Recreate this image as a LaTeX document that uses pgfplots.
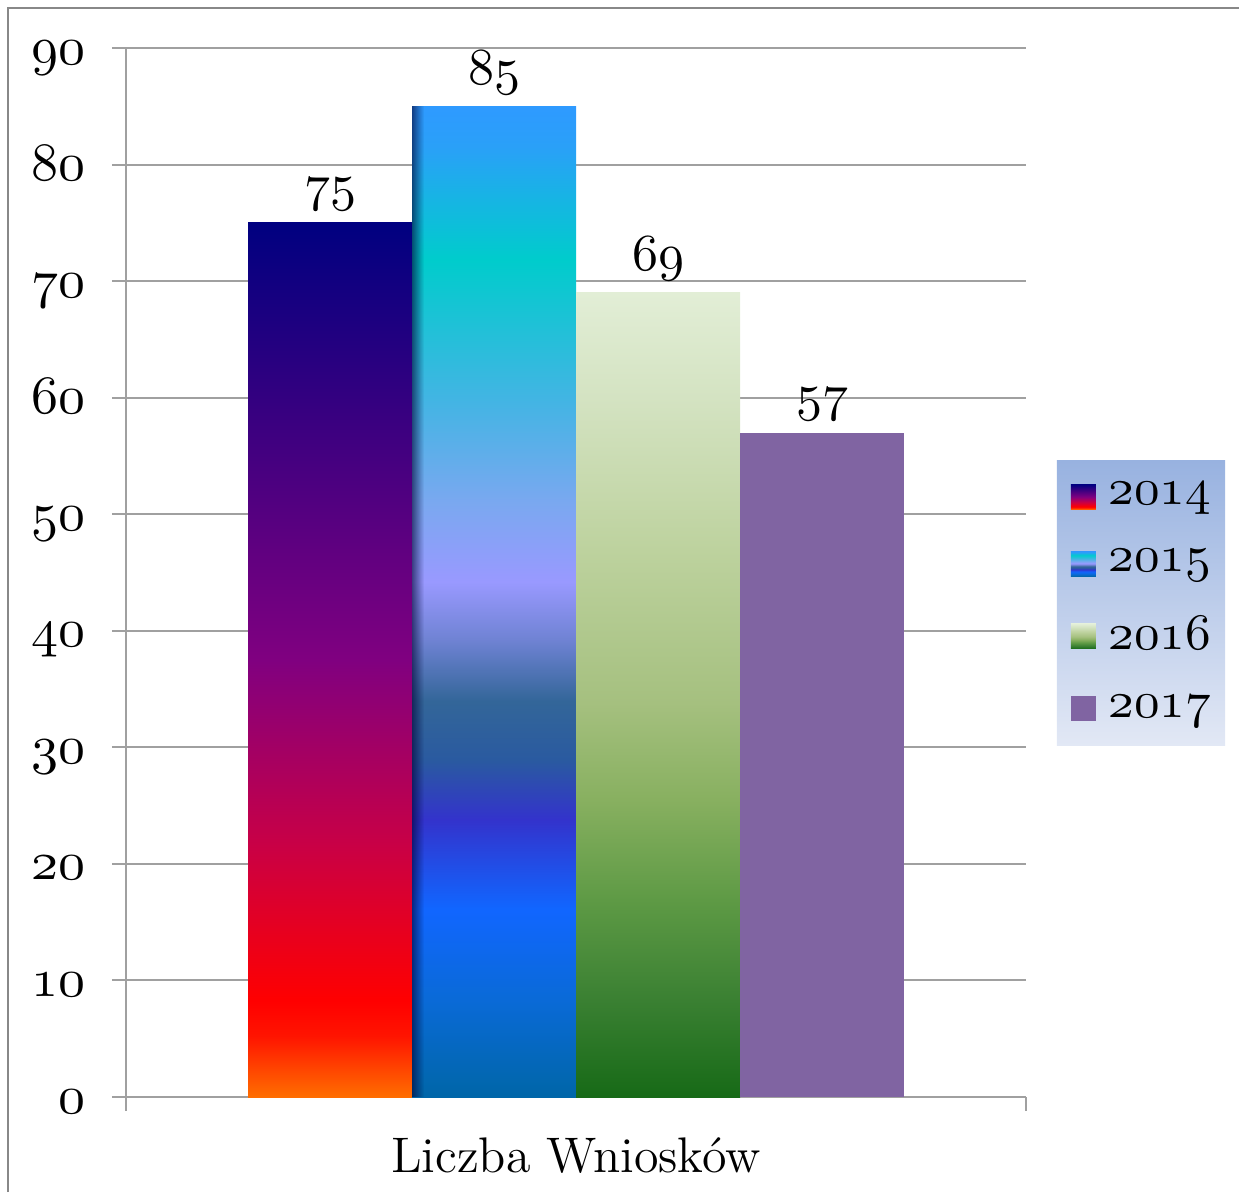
\documentclass[border=0pt]{standalone}
\usepackage{pgfplots}
\pgfplotsset{compat=1.18}
\usetikzlibrary{fadings}

% scalable old-style digits
\DeclareFontShape{OML}{cmm}{m}{it}{<-> cmmi10}{}

\definecolor{gridgray}{RGB}{160,160,160}
\definecolor{framegray}{RGB}{136,136,136}
\definecolor{c2017}{RGB}{128,100,162}
\definecolor{legtop}{RGB}{152,178,224}
\definecolor{legbot}{RGB}{226,232,245}

% 2014 colours, bottom to top
\definecolor{ka}{RGB}{255,110,0}
\definecolor{kb}{RGB}{255,20,0}
\definecolor{kc}{RGB}{255,0,0}
\definecolor{kd}{RGB}{200,0,70}
\definecolor{ke}{RGB}{128,0,128}
\definecolor{kf}{RGB}{0,0,128}
\pgfdeclareverticalshading{s2014}{100bp}{color(0bp)=(ka); color(25bp)=(ka);
  color(28.5bp)=(kb); color(30.5bp)=(kc); color(39.5bp)=(kd); color(50bp)=(ke);
  color(75bp)=(kf); color(100bp)=(kf)}

% 2015 colours, bottom to top
\definecolor{oa}{RGB}{0,102,168}
\definecolor{ob}{RGB}{10,106,216}
\definecolor{oc}{RGB}{17,102,255}
\definecolor{od}{RGB}{51,51,204}
\definecolor{oe}{RGB}{42,90,160}
\definecolor{of}{RGB}{51,102,153}
\definecolor{og}{RGB}{110,130,210}
\definecolor{oh}{RGB}{153,153,255}
\definecolor{oi}{RGB}{122,168,240}
\definecolor{oj}{RGB}{68,180,228}
\definecolor{ok}{RGB}{0,204,204}
\definecolor{ol}{RGB}{42,160,248}
\definecolor{om}{RGB}{46,154,255}
\pgfdeclareverticalshading{s2015}{100bp}{color(0bp)=(oa); color(25bp)=(oa);
  color(30bp)=(ob); color(34.5bp)=(oc); color(39bp)=(od); color(42bp)=(oe);
  color(45bp)=(of); color(48bp)=(og); color(51bp)=(oh); color(55bp)=(oi);
  color(60bp)=(oj); color(67.25bp)=(ok); color(73bp)=(ol); color(75bp)=(om);
  color(100bp)=(om)}

% 2016 colours, bottom to top
\definecolor{ga}{RGB}{23,106,23}
\definecolor{gb}{RGB}{58,128,50}
\definecolor{gc}{RGB}{94,154,69}
\definecolor{gd}{RGB}{136,176,96}
\definecolor{ge}{RGB}{165,192,127}
\definecolor{gf}{RGB}{189,210,158}
\definecolor{gg}{RGB}{212,227,194}
\definecolor{gh}{RGB}{226,238,214}
\pgfdeclareverticalshading{s2016}{100bp}{color(0bp)=(ga); color(25bp)=(ga);
  color(31bp)=(gb); color(37.25bp)=(gc); color(43.5bp)=(gd); color(49.5bp)=(ge);
  color(59bp)=(gf); color(68.5bp)=(gg); color(75bp)=(gh); color(100bp)=(gh)}

\newcommand\numfont{\fontsize{13.5}{16}\selectfont}

\begin{document}
\begin{tikzpicture}
\useasboundingbox (-31.5pt,-23.75pt) rectangle (278.25pt,274.25pt);
\draw[framegray, line width=0.6pt] (-29.5pt,-23.75pt) -- (-29.5pt,272.25pt) -- (278.25pt,272.25pt);
\begin{axis}[
    scale only axis,
    width=225pt, height=262.25pt,
    xmin=0, xmax=1,
    ymin=0, ymax=90,
    axis x line*=bottom,
    axis y line*=left,
    axis line style={gridgray, line width=0.5pt},
    tick style={gridgray, line width=0.5pt},
    tick align=outside,
    major tick length=3.5pt,
    xtick={0,1},
    xticklabels={},
    ytick={0,10,...,90},
    yticklabels={\legacyoldstylenums{0},\legacyoldstylenums{10},\legacyoldstylenums{20},
      \legacyoldstylenums{30},\legacyoldstylenums{40},\legacyoldstylenums{50},
      \legacyoldstylenums{60},\legacyoldstylenums{70},\legacyoldstylenums{80},
      \legacyoldstylenums{90}},
    yticklabel style={font=\numfont, anchor=base east, yshift=-4pt, xshift=-3pt},
    ymajorgrids=true,
    grid style={gridgray, line width=0.5pt},
    ybar=0pt,
    bar width=41pt,
    nodes near coords={\legacyoldstylenums{\pgfmathprintnumber[assume math mode=true]{\pgfplotspointmeta}}},
    every node near coord/.append style={font=\fontsize{13}{15.5}\selectfont, anchor=base, yshift=5.5pt},
    xlabel={Liczba Wniosków},
    xlabel style={at={(axis description cs:0.5,0)}, anchor=base, yshift=-18.75pt,
      font=\fontsize{12.5}{15}\selectfont},
    legend image code/.code={\path[#1, draw=none] (0pt,-3.125pt) rectangle (6.25pt,3.125pt);},
    legend cell align=left,
    legend style={at={(1.0333,0.471)}, anchor=west, draw=none,
      top color=legtop, bottom color=legbot, font=\fontsize{12.8}{15.5}\selectfont,
      inner xsep=3.5pt, inner ysep=3.5pt, row sep=5.75pt,
      nodes={inner xsep=0pt},
      /tikz/every odd column/.append style={column sep=3.25pt}},
]
\addplot[draw=none, shade, shading=s2014, bar shift=-61.5pt] coordinates {(0.5,75)};
\addlegendentry{\legacyoldstylenums{2014}}
\addplot[draw=none, shade, shading=s2015, bar shift=-20.5pt] coordinates {(0.5,85)};
\addlegendentry{\legacyoldstylenums{2015}}
\addplot[draw=none, shade, shading=s2016, bar shift=20.5pt] coordinates {(0.5,69)};
\addlegendentry{\legacyoldstylenums{2016}}
\addplot[draw=none, fill=c2017, bar shift=61.5pt] coordinates {(0.5,57)};
\addlegendentry{\legacyoldstylenums{2017}}
% dark bevel on the left edge of the 2015 bar
\addplot[forget plot, draw=none, fill=black!80!blue, fill opacity=0.6, path fading=east,
  bar width=3pt, bar shift=-39.5pt, nodes near coords={}] coordinates {(0.5,85)};
\end{axis}
\end{tikzpicture}
\end{document}
